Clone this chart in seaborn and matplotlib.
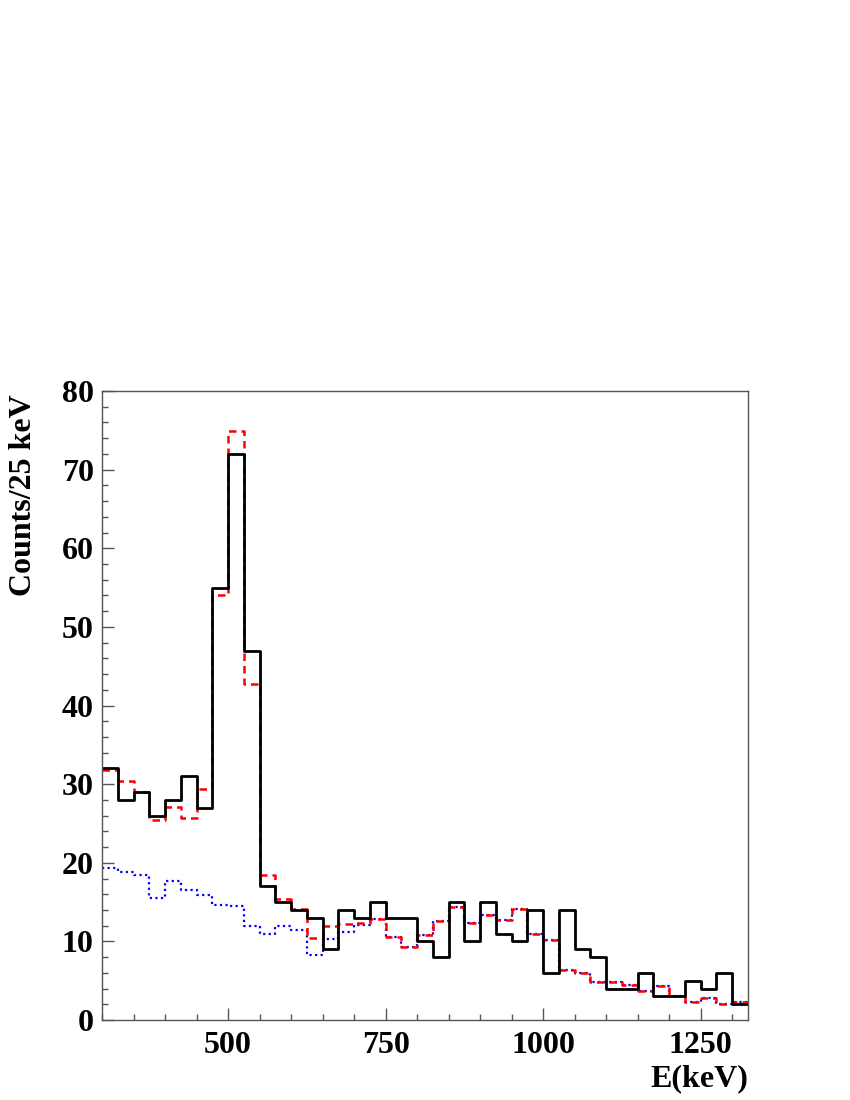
import numpy as np
import pandas as pd
import matplotlib
matplotlib.use("Agg")
import matplotlib.pyplot as plt
from matplotlib.ticker import MultipleLocator
import seaborn as sns

# 25 keV bins from 300 to 1325 keV
bin_edges = list(range(300, 1326, 25))
bin_centers = [e + 12.5 for e in bin_edges[:-1]]

# measured spectrum (counts per bin)
data_counts = [32, 28, 29, 26, 28, 31, 27, 55, 72, 47,
               17, 15, 14, 13, 9, 14, 13, 15, 13, 13,
               10, 8, 15, 10, 15, 11, 10, 14, 6, 14,
               9, 8, 4, 4, 6, 3, 3, 5, 4, 6, 2]

# total fit (peak + background)
fit_total = [31.8, 30.4, 29.0, 25.4, 27.1, 25.7, 29.4, 54.0, 74.9, 42.8,
             18.4, 15.4, 14.1, 10.4, 11.9, 12.2, 12.4, 12.9, 10.5, 9.3,
             10.8, 12.6, 14.4, 12.3, 13.4, 12.7, 14.1, 10.9, 10.2, 6.4,
             6.0, 4.9, 4.8, 4.4, 3.7, 4.3, 3.0, 2.3, 2.8, 2.0, 2.3]

# background component
background = [19.4, 18.8, 18.4, 15.5, 17.7, 16.5, 15.9, 14.6, 14.5, 11.9,
              10.9, 11.9, 11.4, 8.3, 10.3, 11.2, 12.1, 12.9, 10.5, 9.3,
              10.8, 12.6, 14.4, 12.3, 13.4, 12.7, 14.1, 10.9, 10.2, 6.4,
              6.0, 4.9, 4.8, 4.4, 3.7, 4.3, 3.0, 2.3, 2.8, 2.0, 2.3]

df = pd.DataFrame({"E": bin_centers, "data": data_counts,
                   "fit": fit_total, "bkg": background})

sns.set_theme(style="ticks")
plt.rcParams["font.family"] = ["Liberation Serif", "DejaVu Serif"]
plt.rcParams["font.weight"] = "bold"
plt.rcParams["text.color"] = "black"
plt.rcParams["axes.labelcolor"] = "black"

fig = plt.figure(figsize=(8.5, 11), dpi=100)
ax = fig.add_axes([0.12, 0.0727, 0.76, 0.5718])

sns.histplot(data=df, x="E", weights="bkg", bins=bin_edges, element="step",
             fill=False, color="blue", linestyle=(0, (1, 1.5)), linewidth=1.6, ax=ax)
sns.histplot(data=df, x="E", weights="fit", bins=bin_edges, element="step",
             fill=False, color="red", linestyle=(0, (3, 2)), linewidth=1.8, ax=ax)
sns.histplot(data=df, x="E", weights="data", bins=bin_edges, element="step",
             fill=False, color="black", linewidth=2.0, ax=ax)

ax.set_xlim(300, 1325)
ax.set_ylim(0, 80)
ax.xaxis.set_major_locator(MultipleLocator(250))
ax.xaxis.set_minor_locator(MultipleLocator(50))
ax.yaxis.set_major_locator(MultipleLocator(10))
ax.yaxis.set_minor_locator(MultipleLocator(2))
ax.tick_params(which="both", direction="in", top=False, right=False,
               labelsize=23, labelcolor="black")
ax.tick_params(which="major", length=8.5, width=1, color="#555555")
ax.tick_params(which="minor", length=4.3, width=1, color="#555555")
ax.tick_params(axis="x", pad=8)
ax.tick_params(axis="y", pad=6)
for lab in ax.get_xticklabels() + ax.get_yticklabels():
    lab.set_fontweight("bold")

for side in ["top", "right", "bottom", "left"]:
    ax.spines[side].set_visible(True)
    ax.spines[side].set_color("#555555")
    ax.spines[side].set_linewidth(1)

ax.set_xlabel("E(keV)", fontsize=23, fontweight="bold", loc="right", color="black")
ax.xaxis.set_label_coords(1.0, -0.071)
ax.set_ylabel("Counts/25 keV", fontsize=23, fontweight="bold", loc="top", color="black")
ax.yaxis.set_label_coords(-0.099, 0.995)

fig.savefig("out.png", dpi=100)
